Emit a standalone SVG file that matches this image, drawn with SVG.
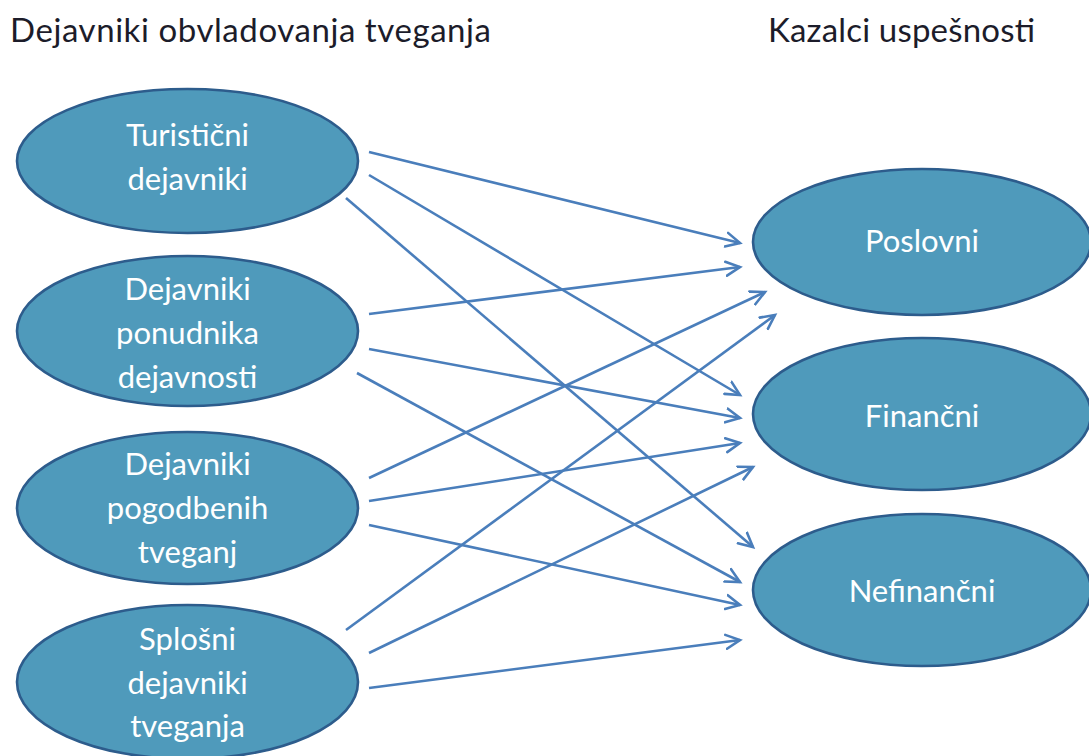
<svg xmlns="http://www.w3.org/2000/svg" width="1089" height="756" viewBox="0 0 1089 756">
<defs>
<marker id="ah" markerUnits="userSpaceOnUse" markerWidth="20" markerHeight="20" refX="15" refY="8" orient="auto" viewBox="0 0 20 16">
<path d="M1,1 L15,8 L1,15" fill="none" stroke="#4a7ebb" stroke-width="2.6" stroke-linecap="round" stroke-linejoin="miter"/>
</marker>
<style>
.node ellipse{fill:#4f9abb;stroke:#2d5c8c;stroke-width:2.6}
.node text{fill:#ffffff;font-family:Lato,"Liberation Sans",sans-serif;font-size:31px;text-anchor:middle}
.title{fill:#1c1c2a;font-family:Lato,"Liberation Sans",sans-serif;font-size:33px}
#connectors line{stroke:#4a7ebb;stroke-width:2.6;marker-end:url(#ah)}
</style>
</defs>
<rect width="1089" height="756" fill="#ffffff"/>
<text class="title" x="10" y="42" textLength="481" lengthAdjust="spacing">Dejavniki obvladovanja tveganja</text>
<text class="title" x="768" y="42" textLength="267" lengthAdjust="spacing">Kazalci uspešnosti</text>
<g id="n-turisticni" class="node">
<ellipse cx="187.5" cy="161" rx="170.5" ry="72"/>
<text x="187.5" y="146">Turistični</text>
<text x="187.5" y="190">dejavniki</text>
</g>
<g id="n-ponudnika" class="node">
<ellipse cx="187.5" cy="331" rx="170.5" ry="75"/>
<text x="187.5" y="300">Dejavniki</text>
<text x="187.5" y="344">ponudnika</text>
<text x="187.5" y="388">dejavnosti</text>
</g>
<g id="n-pogodbenih" class="node">
<ellipse cx="187.5" cy="508" rx="170.5" ry="76"/>
<text x="187.5" y="475">Dejavniki</text>
<text x="187.5" y="519">pogodbenih</text>
<text x="187.5" y="563">tveganj</text>
</g>
<g id="n-splosni" class="node">
<ellipse cx="187.5" cy="682" rx="170.5" ry="77"/>
<text x="187.5" y="650">Splošni</text>
<text x="187.5" y="694">dejavniki</text>
<text x="187.5" y="737">tveganja</text>
</g>
<g id="n-poslovni" class="node">
<ellipse cx="922" cy="242" rx="169" ry="73"/>
<text x="922" y="252">Poslovni</text>
</g>
<g id="n-financni" class="node">
<ellipse cx="922" cy="414" rx="169" ry="76"/>
<text x="922" y="427">Finančni</text>
</g>
<g id="n-nefinancni" class="node">
<ellipse cx="922" cy="590" rx="169" ry="76"/>
<text x="922" y="602">Nefinančni</text>
</g>
<g id="connectors">
<line x1="369" y1="152" x2="740" y2="243"/>
<line x1="369" y1="175" x2="740" y2="395"/>
<line x1="346" y1="198" x2="753" y2="547"/>
<line x1="369" y1="314" x2="740" y2="267"/>
<line x1="369" y1="349" x2="740" y2="418"/>
<line x1="357" y1="373" x2="740" y2="582"/>
<line x1="369" y1="478" x2="765" y2="292"/>
<line x1="369" y1="501" x2="740" y2="443"/>
<line x1="369" y1="525" x2="740" y2="605"/>
<line x1="346" y1="630" x2="775" y2="315"/>
<line x1="369" y1="653" x2="753" y2="467"/>
<line x1="369" y1="688" x2="740" y2="640"/>
</g>
</svg>
